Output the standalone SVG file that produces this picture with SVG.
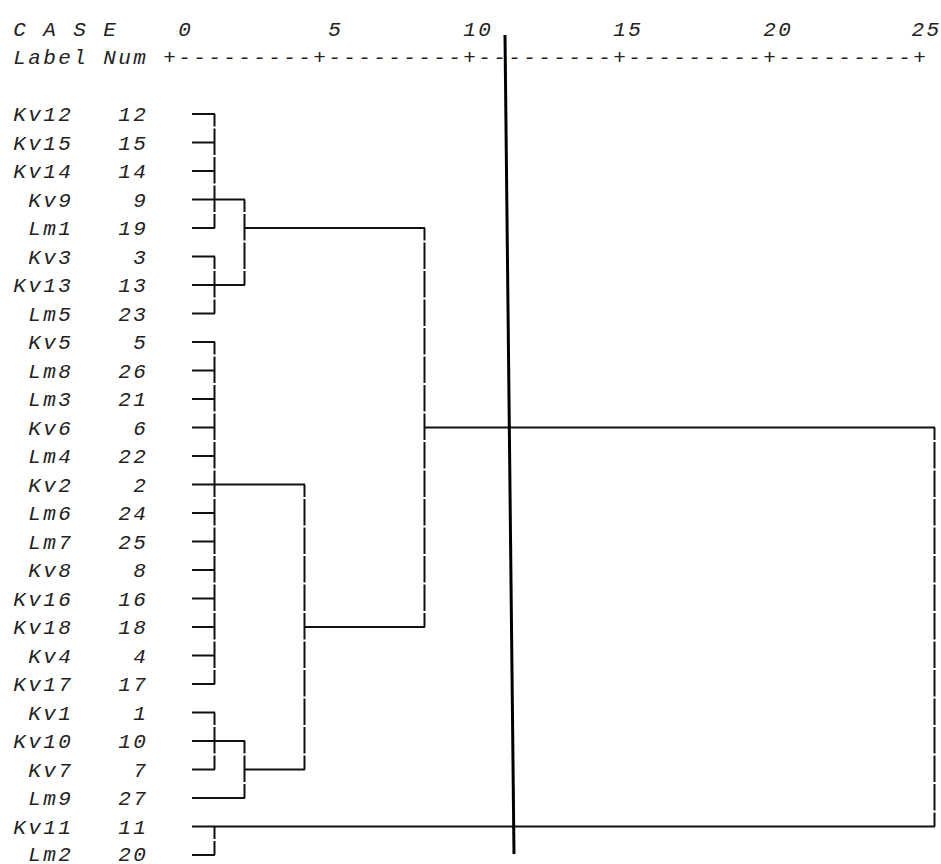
<svg xmlns="http://www.w3.org/2000/svg" width="941" height="864" viewBox="0 0 941 864">
<style>
text{font-family:"Liberation Mono","Courier New",monospace;font-style:italic;font-size:21px;letter-spacing:2.4px;fill:#222}
.h{stroke:#111;stroke-width:2;fill:none}
.v{stroke:#111;stroke-width:2;fill:none;stroke-dasharray:26.5 2;stroke-dashoffset:14}
.cut{stroke:#000;stroke-width:3;fill:none}
</style>
<rect width="941" height="864" fill="#fff"/>
<g id="header">
<text x="13.2" y="35.5" xml:space="preserve">C A S E</text>
<text x="178.2" y="35.5">0</text>
<text x="328.2" y="35.5">5</text>
<text x="463.2" y="35.5">10</text>
<text x="613.2" y="35.5">15</text>
<text x="763.2" y="35.5">20</text>
<text x="911.5" y="35.5">25</text>
<text x="13.2" y="64" xml:space="preserve">Label Num</text>
<text x="163.2" y="64">+---------+---------+---------+---------+---------+</text>
</g>
<g id="leaves">
<g id="n12"><text x="13.2" y="121">Kv12</text><text x="118.2" y="121">12</text></g>
<g id="n15"><text x="13.2" y="149.5">Kv15</text><text x="118.2" y="149.5">15</text></g>
<g id="n14"><text x="13.2" y="178">Kv14</text><text x="118.2" y="178">14</text></g>
<g id="n9"><text x="28.2" y="206.5">Kv9</text><text x="133.2" y="206.5">9</text></g>
<g id="n19"><text x="28.2" y="235">Lm1</text><text x="118.2" y="235">19</text></g>
<g id="n3"><text x="28.2" y="263.5">Kv3</text><text x="133.2" y="263.5">3</text></g>
<g id="n13"><text x="13.2" y="292">Kv13</text><text x="118.2" y="292">13</text></g>
<g id="n23"><text x="28.2" y="320.5">Lm5</text><text x="118.2" y="320.5">23</text></g>
<g id="n5"><text x="28.2" y="349">Kv5</text><text x="133.2" y="349">5</text></g>
<g id="n26"><text x="28.2" y="377.5">Lm8</text><text x="118.2" y="377.5">26</text></g>
<g id="n21"><text x="28.2" y="406">Lm3</text><text x="118.2" y="406">21</text></g>
<g id="n6"><text x="28.2" y="434.5">Kv6</text><text x="133.2" y="434.5">6</text></g>
<g id="n22"><text x="28.2" y="463">Lm4</text><text x="118.2" y="463">22</text></g>
<g id="n2"><text x="28.2" y="491.5">Kv2</text><text x="133.2" y="491.5">2</text></g>
<g id="n24"><text x="28.2" y="520">Lm6</text><text x="118.2" y="520">24</text></g>
<g id="n25"><text x="28.2" y="548.5">Lm7</text><text x="118.2" y="548.5">25</text></g>
<g id="n8"><text x="28.2" y="577">Kv8</text><text x="133.2" y="577">8</text></g>
<g id="n16"><text x="13.2" y="605.5">Kv16</text><text x="118.2" y="605.5">16</text></g>
<g id="n18"><text x="13.2" y="634">Kv18</text><text x="118.2" y="634">18</text></g>
<g id="n4"><text x="28.2" y="662.5">Kv4</text><text x="133.2" y="662.5">4</text></g>
<g id="n17"><text x="13.2" y="691">Kv17</text><text x="118.2" y="691">17</text></g>
<g id="n1"><text x="28.2" y="719.5">Kv1</text><text x="133.2" y="719.5">1</text></g>
<g id="n10"><text x="13.2" y="748">Kv10</text><text x="118.2" y="748">10</text></g>
<g id="n7"><text x="28.2" y="776.5">Kv7</text><text x="133.2" y="776.5">7</text></g>
<g id="n27"><text x="28.2" y="805">Lm9</text><text x="118.2" y="805">27</text></g>
<g id="n11"><text x="13.2" y="833.5">Kv11</text><text x="118.2" y="833.5">11</text></g>
<g id="n20"><text x="28.2" y="860.5">Lm2</text><text x="118.2" y="860.5">20</text></g>
</g>
<g id="connectors">
<path class="h" d="M192 114H215M192 142.5H215M192 171H215M192 199.5H245M192 228H215M245 228H425M192 256.5H215M192 285H245M192 313.5H215"/>
<path class="h" d="M192 342H215M192 370.5H215M192 399H215M192 427.5H215M425 427.5H935M192 456H215M192 484.5H305M192 513H215M192 541.5H215M192 570H215M192 598.5H215M192 627H215M305 627H425M192 655.5H215M192 684H215"/>
<path class="h" d="M192 712.5H215M192 741H245M192 769.5H215M245 769.5H305M192 798H245M192 826.5H935M192 855H215"/>
<path class="v" d="M214.5 114V228"/>
<path class="v" d="M214.5 256.5V313.5"/>
<path class="v" d="M214.5 342V684"/>
<path class="v" d="M214.5 712.5V769.5"/>
<path class="v" d="M214.5 826.5V855"/>
<path class="v" d="M244.5 199.5V285"/>
<path class="v" d="M244.5 741V798"/>
<path class="v" d="M304.5 484.5V769.5"/>
<path class="v" d="M424.5 228V627"/>
<path class="v" d="M934.5 427.5V826.5"/>
</g>
<line class="cut" x1="505" y1="35" x2="514" y2="854"/>
</svg>
